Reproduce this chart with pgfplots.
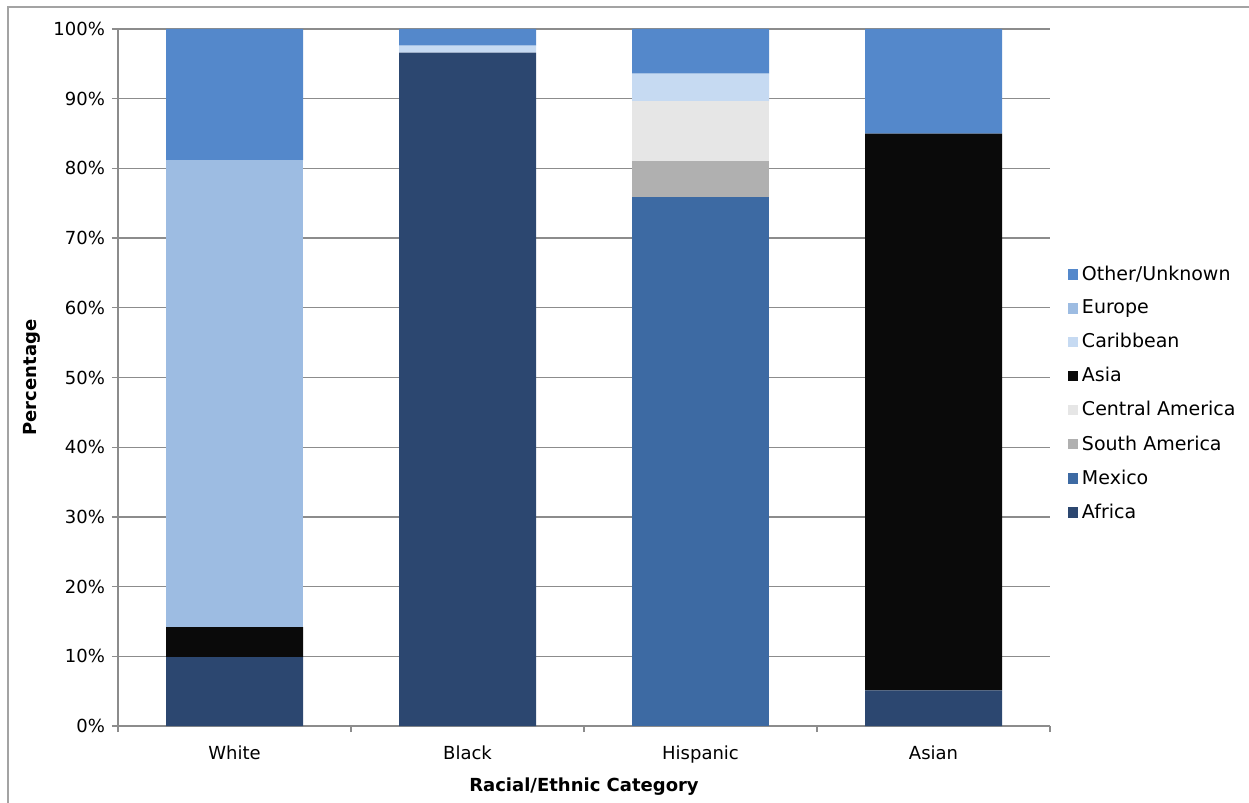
\documentclass[border=0pt]{standalone}
\usepackage{pgfplots}
\pgfplotsset{compat=1.18}
\usepackage{fontspec}
\setmainfont{DejaVu Sans}
\definecolor{cAfrica}{HTML}{2C4770}
\definecolor{cMexico}{HTML}{3D6AA3}
\definecolor{cSouth}{HTML}{B0B0B0}
\definecolor{cCentral}{HTML}{E6E6E6}
\definecolor{cAsia}{HTML}{0A0A0A}
\definecolor{cCarib}{HTML}{C6DAF2}
\definecolor{cEurope}{HTML}{9DBCE2}
\definecolor{cOther}{HTML}{5488CB}
\definecolor{gridc}{HTML}{8C8C8C}
\begin{document}
\begin{tikzpicture}
\begin{axis}[
  name=ax,
  scale only axis,
  width=466pt, height=348.5pt,
  ybar stacked,
  bar width=68.5pt,
  xmin=-0.5, xmax=3.5,
  ymin=0, ymax=100,
  xtick={0,1,2,3},
  xticklabels={White,Black,Hispanic,Asian},
  minor xtick={-0.5,0.5,1.5,2.5,3.5},
  ytick={0,10,...,100},
  yticklabel={\pgfmathprintnumber{\tick}\%},
  /pgf/number format/assume math mode=true,
  ymajorgrids,
  grid style={gridc, line width=0.6pt},
  axis x line*=bottom, axis y line*=left,
  axis line style={gridc, line width=0.6pt, -},
  tick align=outside,
  major tick length=3pt,
  minor tick length=3pt,
  xtick style={draw=none},
  minor x tick style={gridc, line width=0.6pt, draw=gridc},
  ytick style={gridc, line width=0.6pt},
  tick label style={font=\fontsize{9}{10}\selectfont},
  xticklabel style={yshift=-3.5pt},
  xlabel={\bfseries Racial/Ethnic Category},
  ylabel={\bfseries Percentage},
  label style={font=\fontsize{9}{10}\selectfont\bfseries},
  xlabel style={yshift=-0.5pt},
  ylabel style={yshift=-0.5pt},
  reverse legend,
  legend cell align=left,
  legend style={at={(1.012,0.477)}, anchor=west, draw=none, fill=none,
    font=\fontsize{9.5}{11}\selectfont, row sep=4.3pt},
  legend image code/.code={\fill[#1] (0pt,-2.6pt) rectangle (5.2pt,2.6pt);},
  every axis plot/.append style={draw=none},
]
\addplot[fill=cAfrica] coordinates {(0,9.9) (1,96.6) (2,0) (3,5.1)};
\addlegendentry{Africa}
\addplot[fill=cMexico] coordinates {(0,0) (1,0) (2,75.9) (3,0)};
\addlegendentry{Mexico}
\addplot[fill=cSouth] coordinates {(0,0) (1,0) (2,5.1) (3,0)};
\addlegendentry{South America}
\addplot[fill=cCentral] coordinates {(0,0) (1,0) (2,8.6) (3,0)};
\addlegendentry{Central America}
\addplot[fill=cAsia] coordinates {(0,4.3) (1,0) (2,0) (3,79.9)};
\addlegendentry{Asia}
\addplot[fill=cCarib] coordinates {(0,0) (1,1.0) (2,4.0) (3,0)};
\addlegendentry{Caribbean}
\addplot[fill=cEurope] coordinates {(0,67.0) (1,0) (2,0) (3,0)};
\addlegendentry{Europe}
\addplot[fill=cOther] coordinates {(0,18.8) (1,2.4) (2,6.4) (3,15.0)};
\addlegendentry{Other/Unknown}
\end{axis}
\draw[gridc!80, line width=0.8pt] ([xshift=-55pt,yshift=-40pt]ax.south west) -- ([xshift=-55pt,yshift=11pt]ax.north west) -- ([xshift=101pt,yshift=11pt]ax.north east);
\pgfresetboundingbox
\useasboundingbox ([xshift=-59pt,yshift=-38pt]ax.south west) rectangle ([xshift=99.5pt,yshift=14.5pt]ax.north east);
\end{tikzpicture}
\end{document}
